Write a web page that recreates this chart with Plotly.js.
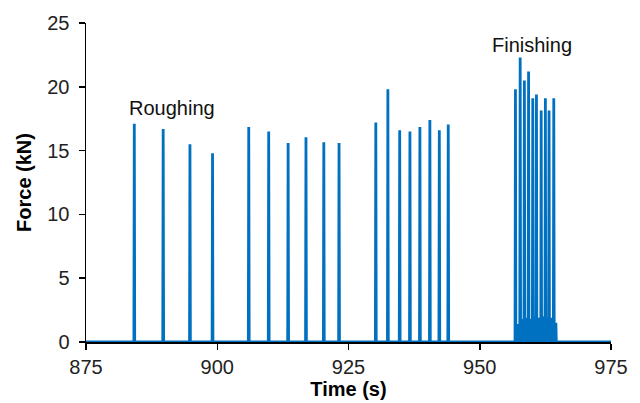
<!DOCTYPE html>
<html>
<head>
<meta charset="utf-8">
<script src="https://cdn.plot.ly/plotly-3.0.1.min.js"></script>
<style>html,body{margin:0;padding:0;background:#fff;}#chart{width:640px;height:403px;}</style>
</head>
<body>
<div id="chart"></div>
<script>
// Roughing passes: spike times (s) and peak forces (kN)
var roughTimes = [884.2, 889.7, 894.8, 899.1, 906.0, 909.8, 913.5, 916.9, 920.3, 923.2,
                  930.2, 932.5, 934.75, 936.7, 938.6, 940.5, 942.3, 944.0];
var roughPeaks = [17.1, 16.7, 15.5, 14.8, 16.85, 16.5, 15.6, 16.05, 15.65, 15.6,
                  17.2, 19.8, 16.6, 16.5, 16.85, 17.4, 16.6, 17.05];
// Finishing passes: main spikes
var finishTimes = [956.8, 957.7, 958.5, 959.3, 960.1, 960.8, 961.7, 962.5, 963.2, 964.1];
var finishPeaks = [19.8, 22.3, 20.5, 21.2, 19.1, 19.4, 18.15, 19.1, 18.15, 19.1];
// Finishing passes: small intermediate spikes near the base
var finishMinorTimes = [957.25, 958.1, 958.9, 959.7, 960.45, 961.25, 962.1, 962.85, 963.65, 964.5];
var finishMinorPeaks = [1.4, 1.8, 1.9, 1.8, 2.0, 1.9, 2.0, 1.9, 1.9, 1.5];
// Axis ticks
var xTicks = [875, 900, 925, 950, 975];
var yTicks = [0, 5, 10, 15, 20, 25];
var labels = [{text: 'Roughing', x: 891.4, y: 18.3}, {text: 'Finishing', x: 960.0, y: 23.3}];

// Build the trace: each event rises from zero to its peak and returns to zero
var events = [];
roughTimes.forEach(function(t, i){ events.push([t, roughPeaks[i]]); });
finishTimes.forEach(function(t, i){ events.push([t, finishPeaks[i]]); });
finishMinorTimes.forEach(function(t, i){ events.push([t, finishMinorPeaks[i]]); });
events.sort(function(a, b){ return a[0] - b[0]; });
var xs = [xTicks[0]], ys = [0];
events.forEach(function(e){
  xs.push(e[0] - 0.08, e[0], e[0] + 0.08);
  ys.push(0, e[1], 0);
});
xs.push(xTicks[xTicks.length - 1]); ys.push(0);

var font = 'Arial, "Liberation Sans", sans-serif';
var trace = {
  x: xs, y: ys, type: 'scatter', mode: 'lines',
  line: {color: '#0070C0', width: 2.8},
  hoverinfo: 'skip'
};
var layout = {
  width: 640, height: 403,
  margin: {l: 86, r: 29, t: 23, b: 61},
  paper_bgcolor: '#fff', plot_bgcolor: '#fff',
  showlegend: false,
  font: {family: font, size: 20, color: '#222'},
  xaxis: {
    range: [875, 975], tickvals: xTicks, ticktext: xTicks.map(String),
    showgrid: false, zeroline: false, showline: true, linecolor: '#000', linewidth: 1.5,
    ticks: 'outside', ticklen: 6, tickcolor: '#000', tickwidth: 1.5,
    tickfont: {family: font, size: 20, color: '#222'},
    layer: 'below traces',
    title: {text: '<b>Time (s)</b>', font: {family: font, size: 20, color: '#000'}, standoff: 3}
  },
  yaxis: {
    range: [0, 25], tickvals: yTicks, ticktext: yTicks.map(String),
    showgrid: false, zeroline: false, showline: true, linecolor: '#000', linewidth: 1.5,
    ticks: 'outside', ticklen: 6, tickcolor: '#000', tickwidth: 1.5,
    ticklabelstandoff: 5,
    tickfont: {family: font, size: 20, color: '#222'},
    layer: 'below traces',
    title: {text: '<b>Force (kN)</b>', font: {family: font, size: 20, color: '#000'}, standoff: 10}
  },
  annotations: labels.map(function(l){
    return {text: l.text, x: l.x, y: l.y, xref: 'x', yref: 'y', showarrow: false,
            font: {family: font, size: 20, color: '#111'}};
  })
};
Plotly.newPlot('chart', [trace], layout, {staticPlot: true, displayModeBar: false});
</script>
</body>
</html>
